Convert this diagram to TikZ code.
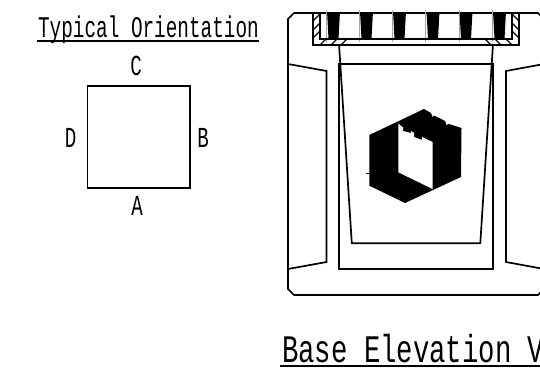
\documentclass[tikz,border=0pt]{standalone}
\usepackage{fontspec}
\setmainfont{Liberation Mono}
\tikzset{
  ln/.style={draw=black,line width=1.7pt,line join=miter},
  thin ln/.style={draw=black,line width=1.1pt},
  faint/.style={draw=black!35,line width=.4pt},
  hdr/.style={anchor=base west,inner sep=0pt,xscale=.645,font=\fontsize{30}{30}\selectfont},
  ttl/.style={anchor=base west,inner sep=0pt,xscale=.70,font=\fontsize{39}{39}\selectfont},
  lbl/.style={anchor=base,inner sep=0pt,xscale=.66,font=\fontsize{29}{29}\selectfont},
  wedge/.style={fill=black,draw=none}
}
\begin{document}
\begin{tikzpicture}[x=1pt,y=-1pt]
\useasboundingbox (0,0) rectangle (540,377);
\clip (0,0) rectangle (540,377);
\fill[white] (0,0) rectangle (540,377);
% orientation key
\node[hdr] (head) at (38,38) {Typical Orientation};
\draw[thin ln] (37,41) -- (259,41);
\node[ln,minimum width=102.6pt,minimum height=102.3pt,inner sep=0pt,anchor=north west] (sq) at (86.7,85) {};
\node[lbl] (lc) at (136,76) {C};
\node[lbl] (la) at (137,215) {A};
\node[lbl] (ld) at (70.5,147) {D};
\node[lbl] (lb) at (203,147) {B};
% outer body
\draw[ln] (544,19) -- (538,13) -- (294,13) -- (288,19) -- (288,289) -- (294,295) -- (538,295) -- (544,289);
% side panels
\draw[ln] (288,64) -- (326.5,71) -- (326.5,262) -- (288,269);
\draw[ln] (544,64) -- (506,71) -- (506,262) -- (544,269);
% inner rectangle
\draw[ln] (338.7,64) -- (338.7,269) -- (492.8,269) -- (492.8,64) -- cycle;
% trapezoid
\draw[ln] (339,44) -- (351.8,243.3) -- (480.3,243.3) -- (493,44);
% top frame
\draw[faint] (326.5,10) -- (326.5,42) (359.5,10) -- (359.5,42) (392.5,10) -- (392.5,42) (425.5,10) -- (425.5,42) (459.5,10) -- (459.5,42) (492.5,10) -- (492.5,42);
\foreach \cx in {333.5,366.5,399.5,433,466,499.5}{
  \fill[wedge] (\cx-6.4,13) -- (\cx+6.4,13) -- (\cx+5,39) -- (\cx-5,39) -- cycle;
}
\draw[ln] (313,13) -- (313,45) -- (519,45) -- (519,13);
\draw[ln] (320,13) -- (320,39) -- (512,39) -- (512,13);
% hatching
\draw[thin ln] (313,21) -- (320,14) (313,30) -- (320,23) (313,38) -- (320,31)
  (320,45) -- (326,39) (331,45) -- (337,39) (341,45) -- (347,39);
\draw[thin ln] (512,14) -- (519,21) (512,23) -- (519,30) (512,31) -- (519,38)
  (512,45) -- (506,39) (501,45) -- (495,39) (491,45) -- (485,39);
% block
\fill[black] (369.3,135) -- (424,109) -- (431,113) -- (432.5,117) -- (434,115.5) -- (445,121) -- (446.5,125) -- (449,124) -- (461.5,128) -- (461,177) -- (405,203) -- (369.3,185.7) -- cycle;
\fill[white] (398.3,123.5) -- (403,127.5) -- (403,131) -- (411,133) -- (411,131) -- (414,133) -- (414,137) -- (422,140) -- (422,137) -- (426,139) -- (432.7,142) -- (432.7,189) -- (398.3,172.3) -- cycle;
\draw[black,line width=.5pt] (366,173) -- (370,173);
% title
\node[ttl] (title) at (282,362) {Base Elevation View};
\draw[line width=1.8pt] (280,366) -- (540,366);
\end{tikzpicture}
\end{document}
